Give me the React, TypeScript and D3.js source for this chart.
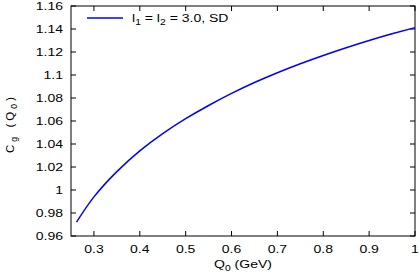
import React from 'react'
import * as d3 from 'd3'

// Curve: Q0 (GeV) against Cg(Q0)
const qValues = [0.262, 0.3, 0.35, 0.4, 0.45, 0.5, 0.55, 0.6, 0.65, 0.7, 0.75, 0.8, 0.85, 0.9, 0.95, 1.0]
const cgValues = [0.972, 0.994, 1.016, 1.034, 1.049, 1.062, 1.0735, 1.084, 1.0935, 1.102, 1.1098, 1.117, 1.1237, 1.13, 1.1358, 1.1412]

const xTicks = [0.3, 0.4, 0.5, 0.6, 0.7, 0.8, 0.9, 1.0]
const xTickLabels = ['0.3', '0.4', '0.5', '0.6', '0.7', '0.8', '0.9', '1']
const yTicks = [0.96, 0.98, 1.0, 1.02, 1.04, 1.06, 1.08, 1.1, 1.12, 1.14, 1.16]
const yTickLabels = ['0.96', '0.98', '1', '1.02', '1.04', '1.06', '1.08', '1.1', '1.12', '1.14', '1.16']

const legendLabel = ['l', '1', ' = l', '2', ' = 3.0, SD']

const width = 419
const height = 273
const margin = { left: 71, right: 4, top: 6, bottom: 37 }
const font = '"Liberation Sans", Arial, sans-serif'
const fontSize = 11.5
const subSize = 8.5
const stretch = 1.22 // the reference lettering is wide
const tickLen = 5

/** text drawn a bit wider than the font, like the reference */
const WideText = ({ x, y, anchor = 'start', dy, children }: any) => (
    <g transform={`translate(${x}, ${y}) scale(${stretch}, 1)`}>
        <text textAnchor={anchor} dy={dy}>{children}</text>
    </g>
)

const App = () => {
    const innerW = width - margin.left - margin.right
    const innerH = height - margin.top - margin.bottom
    const x = d3.scaleLinear().domain([0.25, 1.0]).range([0, innerW])
    const y = d3.scaleLinear().domain([0.96, 1.16]).range([innerH, 0])

    const points: [number, number][] = qValues.map((q, i) => [q, cgValues[i]])
    const line = d3.line<[number, number]>()
        .x(d => x(d[0]))
        .y(d => y(d[1]))
        .curve(d3.curveNatural)

    return (
        <svg width={width} height={height} style={{ position: 'absolute', left: 0, top: 0 }}
            fontFamily={font} fontSize={fontSize} fill="#000">
            <g transform={`translate(${margin.left}, ${margin.top})`}>
                <rect x={0} y={0} width={innerW} height={innerH} fill="none" stroke="#000" strokeWidth={1} />
                {xTicks.map((t, i) => (
                    <g key={'x' + i}>
                        <line x1={x(t)} x2={x(t)} y1={innerH} y2={innerH - tickLen} stroke="#000" />
                        <line x1={x(t)} x2={x(t)} y1={0} y2={tickLen} stroke="#000" />
                        <WideText x={x(t)} y={innerH + 17} anchor="middle">{xTickLabels[i]}</WideText>
                    </g>
                ))}
                {yTicks.map((t, i) => (
                    <g key={'y' + i}>
                        <line x1={0} x2={tickLen} y1={y(t)} y2={y(t)} stroke="#000" />
                        <line x1={innerW} x2={innerW - tickLen} y1={y(t)} y2={y(t)} stroke="#000" />
                        <WideText x={-8} y={y(t)} dy="0.36em" anchor="end">{yTickLabels[i]}</WideText>
                    </g>
                ))}
                <path d={line(points) || ''} fill="none" stroke="#0000ff" strokeWidth={1.5} />

                <g transform="translate(16, 12)">
                    <line x1={0} x2={36} y1={0} y2={0} stroke="#0000ff" strokeWidth={1.5} />
                    <WideText x={45} y={4}>
                        {legendLabel[0]}
                        <tspan fontSize={subSize} dy={3}>{legendLabel[1]}</tspan>
                        <tspan dy={-3}>{legendLabel[2]}</tspan>
                        <tspan fontSize={subSize} dy={3}>{legendLabel[3]}</tspan>
                        <tspan dy={-3}>{legendLabel[4]}</tspan>
                    </WideText>
                </g>

                <WideText x={innerW / 2} y={innerH + 32} anchor="middle">
                    Q<tspan fontSize={subSize} dy={3}>0</tspan><tspan dy={-3}> (GeV)</tspan>
                </WideText>
            </g>
            <text transform={`translate(14, ${margin.top + innerH / 2 + 4}) rotate(-90)`} textAnchor="middle"
                textLength={56} lengthAdjust="spacing">
                C<tspan fontSize={subSize} dy={3}>g</tspan><tspan dy={-3}> (Q</tspan><tspan fontSize={subSize} dy={3}>0</tspan><tspan dy={-3}>)</tspan>
            </text>
        </svg>
    )
}

export default App
